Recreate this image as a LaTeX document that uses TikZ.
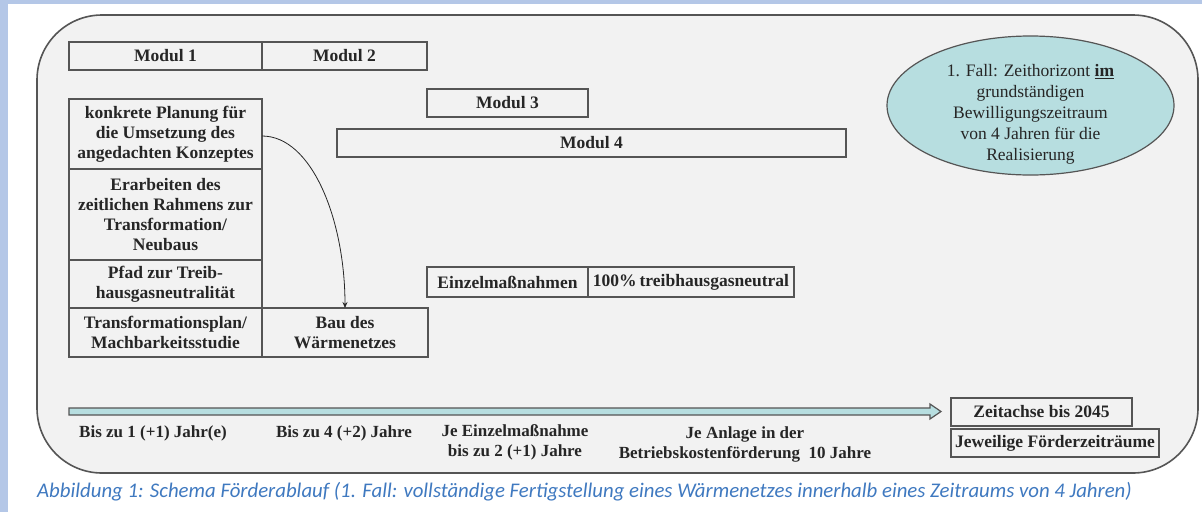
\documentclass[tikz,border=0pt]{standalone}
\usepackage{fontspec}
\setmainfont{Liberation Serif}
\newfontfamily\capfont{Carlito}
\usetikzlibrary{arrows.meta,shapes.geometric}
\definecolor{bgblue}{HTML}{B4C7E7}
\definecolor{panelgray}{HTML}{F2F2F2}
\definecolor{tealfill}{HTML}{B7DEE0}
\definecolor{edgegray}{HTML}{555555}
\definecolor{capblue}{HTML}{3F79C0}
\begin{document}
\begin{tikzpicture}[x=1pt,y=-1pt,
  box/.style={draw=edgegray, line width=1.2pt, rectangle, inner sep=0pt, outer sep=0pt, align=center,
    font=\fontsize{17.5}{20}\selectfont\bfseries, text=black!85},
  lbl/.style={inner sep=0pt, align=center, font=\fontsize{17}{20}\selectfont\bfseries, text=black!85},
  conn/.style={draw=black!85, line width=0.8pt, -{Stealth[length=6pt,width=5pt]}},
]
\useasboundingbox (0,0) rectangle (1202,512);
\fill[white] (0,0) rectangle (1202,512);
\fill[bgblue] (0,0) rectangle (8,512);
\fill[bgblue] (0,0) rectangle (1202,4);
% panel
\draw[draw=edgegray, line width=1.6pt, fill=panelgray, rounded corners=65pt] (37,15) rectangle (1198,473);
% modules
\node[box, minimum width=193pt, minimum height=28pt] (m1) at (165.5,56) {Modul 1};
\node[box, minimum width=165pt, minimum height=28pt] (m2) at (344.5,56) {Modul 2};
\node[box, minimum width=161pt, minimum height=28pt] (m3) at (507.5,103) {Modul 3};
\node[box, minimum width=509pt, minimum height=28pt] (m4) at (591.5,143) {Modul 4};
% left column
\node[box, minimum width=193pt, minimum height=70pt] (p1) at (165.5,134) {konkrete Planung für\\die Umsetzung des\\angedachten Konzeptes};
\node[box, minimum width=193pt, minimum height=91pt] (p2) at (165.5,214.5) {Erarbeiten des\\zeitlichen Rahmens zur\\Transformation/\\Neubaus};
\node[box, minimum width=193pt, minimum height=48pt] (p3) at (165.5,284) {Pfad zur Treib-\\hausgasneutralität};
\node[box, minimum width=193pt, minimum height=49pt] (p4) at (165.5,332.5) {Transformationsplan/\\Machbarkeitsstudie};
\node[box, minimum width=166pt, minimum height=49pt] (bau) at (345,332.5) {Bau des\\Wärmenetzes};
% Einzelmassnahmen
\node[box, minimum width=161pt, minimum height=30pt] (ein) at (507.5,282) {Einzelmaßnahmen};
\node[box, minimum width=206pt, minimum height=30pt] (neu) at (691,282) {100\%\,treibhausgasneutral};
% ellipse
\node[ellipse, draw=edgegray, line width=1.2pt, fill=tealfill, minimum width=287pt, minimum height=139pt, inner sep=0pt] (ell) at (1030.5,105.5) {};
\node[inner sep=0pt, align=center, font=\fontsize{17.5}{21}\selectfont, text=black!85] (elltxt) at (1030.5,114.5)
  {1. Fall: Zeithorizont \underline{\textbf{im}}\\grundständigen\\Bewilligungszeitraum\\von 4 Jahren für die\\Realisierung};
% connector
\draw[conn] (p1.east |- 0,136) .. controls (312,136) and (345,220) .. (bau.north);
% timeline
\coordinate (ta) at (69,411.5);
\coordinate (tb) at (941,411.5);
\draw[draw=edgegray, line width=1.2pt, fill=tealfill, line join=miter]
  (ta) ++(0,-3.5) -- (930,408) -- (930,404) -- (tb) -- (930,419) -- (930,415) -- (69,415) -- cycle;
\node[box, minimum width=181pt, minimum height=28pt] (zeit) at (1041.5,412) {Zeitachse bis 2045};
\node[box, minimum width=208pt, minimum height=28pt] (jew) at (1055,443) {Jeweilige Förderzeiträume};
% labels
\node[lbl] (l1) at (153,433) {Bis zu 1 (+1) Jahr(e)};
\node[lbl] (l2) at (344,433) {Bis zu 4 (+2) Jahre};
\node[lbl] (l3) at (515,442) {Je Einzelmaßnahme\\bis zu 2 (+1) Jahre};
\node[lbl] (l4) at (745,444) {Je Anlage in der\\Betriebskostenförderung~~10 Jahre};
% caption
\node[anchor=west, inner sep=0pt, text=capblue, font=\capfont\itshape\fontsize{20.8}{24}\selectfont] (cap) at (37,492)
  {Abbildung 1: Schema Förderablauf (1. Fall: vollständige Fertigstellung eines Wärmenetzes innerhalb eines Zeitraums von 4 Jahren)};
\end{tikzpicture}
\end{document}
